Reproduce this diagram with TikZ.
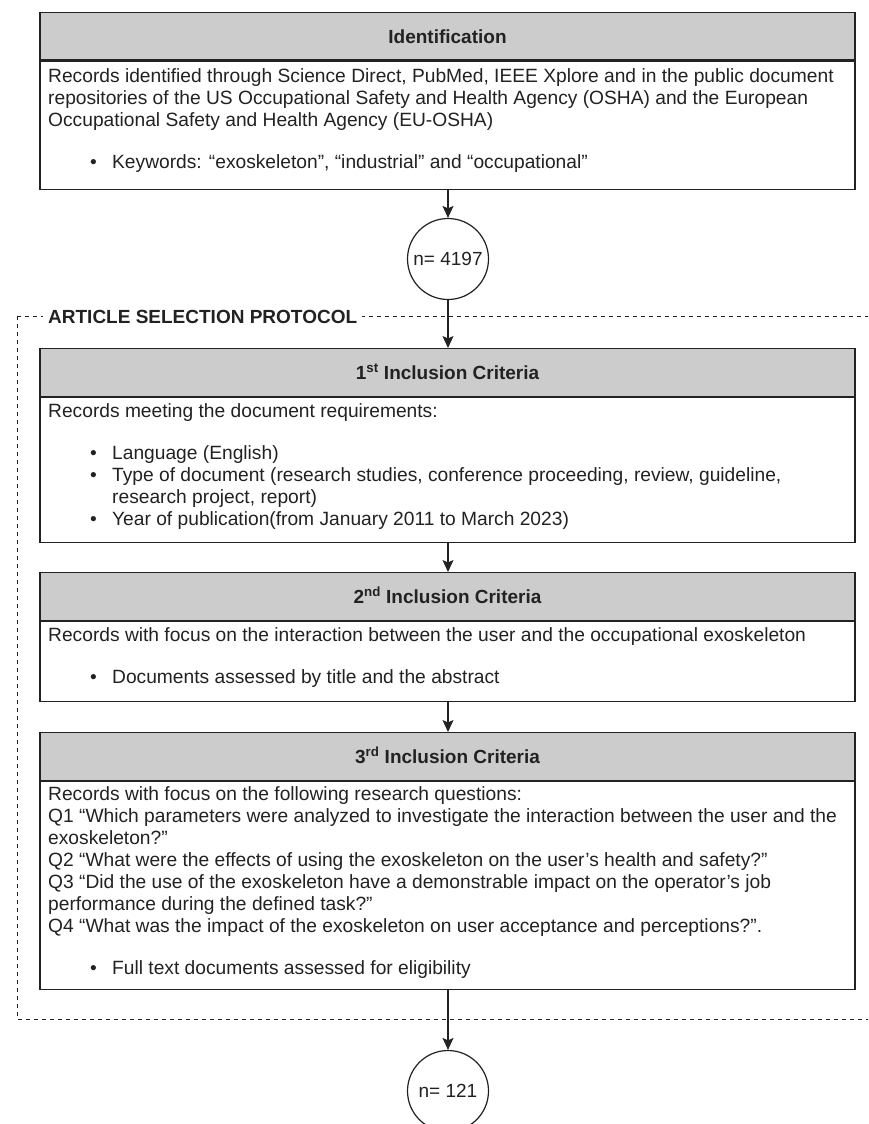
\documentclass[tikz,border=0pt]{standalone}
\usepackage{fontspec}
\setmainfont{Liberation Sans}
\usetikzlibrary{arrows.meta}
\definecolor{hdrgray}{HTML}{CCCCCC}
\definecolor{edgecol}{HTML}{222222}
\newcommand\bitem[1]{\hbox{\hspace*{42pt}\makebox[22pt][l]{\textbullet}#1}}
\newcommand\bcont[1]{\hbox{\hspace*{64pt}#1}}
\newcommand\bline[1]{\hbox{#1}}
\newcommand\bgap{\vskip20pt}
\tikzset{
  txt/.style={font=\fontsize{19.2}{22}\selectfont, inner sep=0pt, anchor=base west, text=edgecol},
  hdr/.style={draw=edgecol, line width=1.3pt, fill=hdrgray, minimum width=815pt,
    minimum height=47.5pt, anchor=north, font=\fontsize{19}{22}\selectfont\bfseries,
    text height=13.7pt, text depth=0pt, inner sep=0pt, text=edgecol},
  bodybox/.style={draw=edgecol, line width=1.3pt, fill=white, minimum width=815pt,
    anchor=north, inner sep=0pt},
  countnode/.style={draw=edgecol, line width=1.2pt, circle, minimum size=81pt,
    inner sep=0pt, fill=white, font=\fontsize{19}{22}\selectfont, text=edgecol},
  flow/.style={draw=edgecol, line width=1.3pt, -{Stealth[length=12pt,width=11pt,inset=2.5pt]}},
  protocol/.style={draw=edgecol, line width=1pt, dash pattern=on 4pt off 4pt},
}
\begin{document}
\begin{tikzpicture}[x=1pt,y=-1pt]
\useasboundingbox (0,0) rectangle (868,1124);
\clip (0,0) rectangle (868,1124);

% protocol frame
\draw[protocol] (17,316) rectangle (900,1019);
\node[anchor=base west, font=\fontsize{19}{22}\selectfont\bfseries, fill=white, text=edgecol,
  inner xsep=5pt, inner ysep=2pt] (prot) at (43,323) {ARTICLE SELECTION PROTOCOL};

% Identification
\node[hdr] (Ah) at (447.5,12) {Identification};
\node[bodybox, minimum height=128pt] (Ab) at (Ah.south) {};
\node[txt] (At) at (48,82) {\vtop{%
  \bline{Records identified through Science Direct, PubMed, IEEE Xplore and in the public document}
  \bline{repositories of the US Occupational Safety and Health Agency (OSHA) and the European}
  \bline{Occupational Safety and Health Agency (EU-OSHA)}
  \bgap
  \bitem{Keywords: “exoskeleton”, “industrial” and “occupational”}}};

\node[countnode] (c1) at (448,259) {n= 4197};

% 1st
\node[hdr] (Bh) at (447.5,348) {1\textsuperscript{st} Inclusion Criteria};
\node[bodybox, minimum height=145pt] (Bb) at (Bh.south) {};
\node[txt] (Bt) at (48,417) {\vtop{%
  \bline{Records meeting the document requirements:}
  \bgap
  \bitem{Language (English)}
  \bitem{Type of document (research studies, conference proceeding, review, guideline,}
  \bcont{research project, report)}
  \bitem{Year of publication(from January 2011 to March 2023)}}};

% 2nd
\node[hdr] (Ch) at (447.5,572) {2\textsuperscript{nd} Inclusion Criteria};
\node[bodybox, minimum height=80pt] (Cb) at (Ch.south) {};
\node[txt] (Ct) at (48,641) {\vtop{%
  \bline{Records with focus on the interaction between the user and the occupational exoskeleton}
  \bgap
  \bitem{Documents assessed by title and the abstract}}};

% 3rd
\node[hdr] (Dh) at (447.5,732) {3\textsuperscript{rd} Inclusion Criteria};
\node[bodybox, minimum height=208pt] (Db) at (Dh.south) {};
\node[txt] (Dt) at (48,800) {\vtop{%
  \bline{Records with focus on the following research questions:}
  \bline{Q1 “Which parameters were analyzed to investigate the interaction between the user and the}
  \bline{exoskeleton?”}
  \bline{Q2 “What were the effects of using the exoskeleton on the user’s health and safety?”}
  \bline{Q3 “Did the use of the exoskeleton have a demonstrable impact on the operator’s job}
  \bline{performance during the defined task?”}
  \bline{Q4 “What was the impact of the exoskeleton on user acceptance and perceptions?”.}
  \bgap
  \bitem{Full text documents assessed for eligibility}}};

\node[countnode] (c2) at (448,1091) {n= 121};

% connectors
\draw[flow] (Ab.south -| c1) -- (c1.north);
\draw[flow] (c1.south) -- (Bh.north -| c1);
\draw[flow] (Bb.south -| c1) -- (Ch.north -| c1);
\draw[flow] (Cb.south -| c1) -- (Dh.north -| c1);
\draw[flow] (Db.south -| c1) -- (c2.north);
\end{tikzpicture}
\end{document}
